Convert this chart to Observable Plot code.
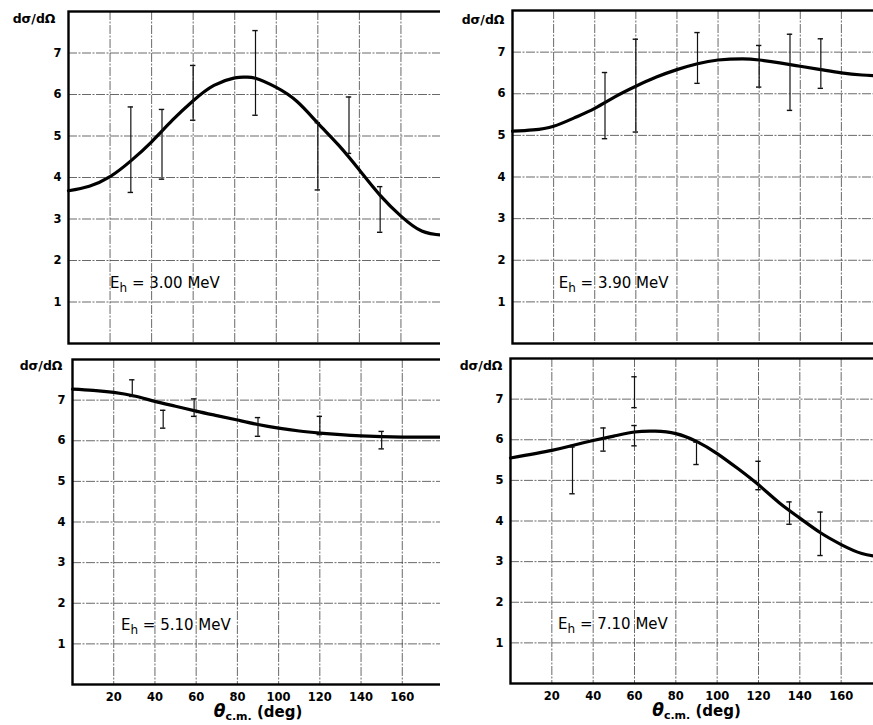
<!DOCTYPE html>
<html>
<head>
<meta charset="utf-8">
<script src="https://cdn.jsdelivr.net/npm/d3@7"></script>
<script src="https://cdn.jsdelivr.net/npm/@observablehq/plot@0.6"></script>
<style>
  html, body { margin: 0; padding: 0; background: #fff; overflow: hidden; }
  #wrap { position: relative; width: 873px; height: 725px; overflow: hidden; background: #fff; }
  .panel { position: absolute; }
  .panel svg { max-width: none !important; }
</style>
</head>
<body>
<div id="wrap"></div>
<script>
// ---------- data ----------
const xTicks = [20, 40, 60, 80, 100, 120, 140, 160];
const yTicks = [1, 2, 3, 4, 5, 6, 7];
const xDomain = [0, 180];
const yDomain = [0, 8];
const yLabel = "dσ/dΩ";
const energies = ["3.00", "3.90", "5.10", "7.10"];

// theoretical curves (theta_cm in deg, dsigma/dOmega)
const curve300Theta = [0, 10, 20, 30, 40, 50, 60, 70, 80, 85, 90, 100, 110, 120, 130, 140, 150, 160, 170, 180];
const curve300Value = [3.68, 3.79, 4.02, 4.40, 4.86, 5.38, 5.85, 6.22, 6.40, 6.42, 6.39, 6.17, 5.83, 5.31, 4.78, 4.18, 3.57, 3.07, 2.71, 2.61];

const curve390Theta = [0, 10, 20, 30, 40, 50, 60, 70, 80, 90, 100, 112, 120, 130, 140, 150, 160, 170, 180];
const curve390Value = [5.10, 5.13, 5.22, 5.42, 5.65, 5.93, 6.18, 6.40, 6.58, 6.72, 6.81, 6.84, 6.81, 6.74, 6.66, 6.58, 6.50, 6.45, 6.43];

const curve510Theta = [0, 10, 20, 30, 40, 50, 60, 70, 80, 90, 100, 110, 120, 130, 140, 150, 160, 170, 180];
const curve510Value = [7.27, 7.24, 7.19, 7.10, 6.97, 6.85, 6.73, 6.62, 6.51, 6.40, 6.31, 6.24, 6.19, 6.15, 6.12, 6.10, 6.09, 6.09, 6.09];

const curve710Theta = [0, 20, 30, 40, 50, 60, 70, 80, 90, 100, 110, 120, 130, 140, 150, 160, 170, 180];
const curve710Value = [5.55, 5.74, 5.86, 5.98, 6.09, 6.19, 6.21, 6.15, 5.96, 5.66, 5.29, 4.89, 4.45, 4.07, 3.71, 3.42, 3.20, 3.11];

// measured points: angle, lower and upper end of the error bar
const bars300Theta = [30, 45, 60, 90, 120, 135, 150];
const bars300Lo    = [3.64, 3.96, 5.38, 5.50, 3.70, 4.58, 2.68];
const bars300Hi    = [5.70, 5.64, 6.70, 7.54, 5.32, 5.94, 3.78];

const bars390Theta = [45, 60, 90, 120, 135, 150];
const bars390Lo    = [4.92, 5.08, 6.25, 6.16, 5.60, 6.13];
const bars390Hi    = [6.51, 7.31, 7.47, 7.16, 7.43, 7.32];

const bars510Theta = [29, 44, 59, 90, 120, 150];
const bars510Lo    = [7.09, 6.31, 6.60, 6.11, 6.15, 5.80];
const bars510Hi    = [7.50, 6.75, 7.03, 6.57, 6.60, 6.23];

const bars710Theta = [30, 45, 60, 60, 90, 120, 135, 150];
const bars710Lo    = [4.67, 5.72, 6.79, 5.85, 5.39, 4.77, 3.92, 3.15];
const bars710Hi    = [5.82, 6.29, 7.55, 6.35, 5.94, 5.47, 4.47, 4.22];

// ---------- helpers ----------
const zip2 = (xs, ys) => xs.map((x, i) => ({x, y: ys[i]}));
const zip3 = (xs, lo, hi) => xs.map((x, i) => ({x, lo: lo[i], hi: hi[i]}));

const panels = [
  {E: energies[0], curve: zip2(curve300Theta, curve300Value), bars: zip3(bars300Theta, bars300Lo, bars300Hi),
   left: 0, top: 0, width: 445, height: 345, mL: 68, mR: 3, mT: 11, mB: 2, bottom: false, labDx: -13, labDy: 7, ex: 20, ey: 1.45},
  {E: energies[1], curve: zip2(curve390Theta, curve390Value), bars: zip3(bars390Theta, bars390Lo, bars390Hi),
   left: 440, top: 0, width: 445, height: 345, mL: 72, mR: 3, mT: 10, mB: 2, bottom: false, labDx: -8, labDy: 9, ex: 22.5, ey: 1.45},
  {E: energies[2], curve: zip2(curve510Theta, curve510Value), bars: zip3(bars510Theta, bars510Lo, bars510Hi),
   left: 0, top: 345, width: 446, height: 380, mL: 72, mR: 3, mT: 14, mB: 41, bottom: true, labDx: -10, labDy: 6, ex: 23.5, ey: 1.45},
  {E: energies[3], curve: zip2(curve710Theta, curve710Value), bars: zip3(bars710Theta, bars710Lo, bars710Hi),
   left: 440, top: 345, width: 445, height: 380, mL: 70, mR: 3, mT: 13, mB: 42, bottom: true, labDx: -8, labDy: 7, ex: 23, ey: 1.45}
];

const FONT = "'DejaVu Sans', 'Liberation Sans', sans-serif";
const wrap = document.getElementById("wrap");
const capHalf = 1.3;

for (const p of panels) {
  const marks = [
    Plot.ruleX(xTicks, {stroke: "#3a3a3a", strokeWidth: 0.9, strokeDasharray: "9,1.5,2,1.5", strokeOpacity: 0.85}),
    Plot.ruleY(yTicks, {stroke: "#3a3a3a", strokeWidth: 0.9, strokeDasharray: "9,1.5,2,1.5", strokeOpacity: 0.85}),
    Plot.line(p.curve, {x: "x", y: "y", curve: "natural", stroke: "#000", strokeWidth: 3.2}),
    Plot.ruleX(p.bars, {x: "x", y1: "lo", y2: "hi", stroke: "#111", strokeWidth: 1.2}),
    Plot.ruleY(p.bars, {y: "lo", x1: d => d.x - capHalf, x2: d => d.x + capHalf, stroke: "#111", strokeWidth: 1.4}),
    Plot.ruleY(p.bars, {y: "hi", x1: d => d.x - capHalf, x2: d => d.x + capHalf, stroke: "#111", strokeWidth: 1.4}),
    Plot.text([`Eh = ${p.E} MeV`], {x: p.ex, y: p.ey, text: d => d, textAnchor: "start", lineAnchor: "middle",
      fontSize: 15, fontFamily: FONT, fontWeight: 500, fill: "#000"}),
    Plot.text([yLabel], {frameAnchor: "top-left", text: d => d, textAnchor: "end", lineAnchor: "middle",
      dx: p.labDx, dy: p.labDy, fontSize: 12.5, fontWeight: "bold", fontFamily: FONT, fill: "#000"}),
    Plot.frame({stroke: "#000", strokeWidth: 2.4})
  ];
  if (p.bottom) {
    marks.push(Plot.text(["θc.m. (deg)"], {frameAnchor: "bottom", text: d => d, textAnchor: "middle", lineAnchor: "middle",
      dy: 28, fontSize: 15, fontFamily: FONT, fontWeight: "bold", fill: "#000"}));
  }
  const chart = Plot.plot({
    width: p.width,
    height: p.height,
    marginLeft: p.mL, marginRight: p.mR, marginTop: p.mT, marginBottom: p.mB,
    style: {fontFamily: FONT, fontSize: "11.5px", fontWeight: "bold", color: "#000", background: "#fff", overflow: "visible", maxWidth: "none"},
    x: {domain: xDomain, ticks: p.bottom ? xTicks : [], tickSize: 0, tickPadding: 8, label: null, axis: p.bottom ? "bottom" : null, tickFormat: d3.format("d")},
    y: {domain: yDomain, ticks: yTicks, tickSize: 0, tickPadding: 7, label: null, tickFormat: d3.format("d")},
    marks
  });
  chart.style.maxWidth = "none";
  const div = document.createElement("div");
  div.className = "panel";
  div.style.left = p.left + "px";
  div.style.top = p.top + "px";
  div.style.width = p.width + "px";
  div.style.height = p.height + "px";
  div.appendChild(chart);
  wrap.appendChild(div);

  // subscripts
  d3.select(chart).selectAll("text").each(function () {
    const t = d3.select(this);
    const s = this.textContent;
    if (s.startsWith("Eh =")) {
      t.text(null);
      t.append("tspan").text("E");
      t.append("tspan").attr("font-size", "12").attr("dy", "4").text("h");
      t.append("tspan").attr("dy", "-4").text(` = ${p.E} MeV`);
    } else if (s === "θc.m. (deg)") {
      t.text(null);
      t.append("tspan").attr("font-style", "italic").attr("font-size", "17").text("θ");
      t.append("tspan").attr("font-size", "11").attr("dy", "3").text("c.m.");
      t.append("tspan").attr("dy", "-3").text(" (deg)");
    }
  });
}
</script>
</body>
</html>
